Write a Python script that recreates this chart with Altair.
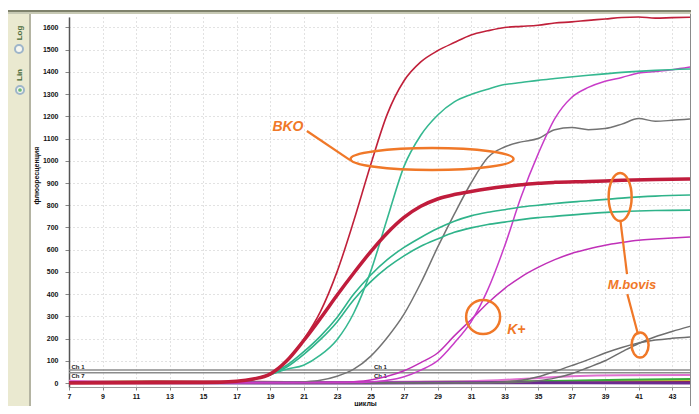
import altair as alt
import pandas as pd

# ---------------- data ----------------
X_TICKS = list(range(7, 44, 2))
Y_TICKS = list(range(0, 1700, 100))

RED_THIN_C = [7, 15, 17, 18, 19, 20, 21, 22, 23, 24, 25, 26, 27, 28, 29, 30, 31, 32, 33, 34, 35, 36, 37, 38, 39, 40, 41, 42, 43, 44.07]
RED_THIN_V = [0, 2, 8, 18, 40, 100, 195, 320, 500, 730, 980, 1210, 1360, 1445, 1495, 1532, 1566, 1585, 1600, 1605, 1610, 1620, 1625, 1632, 1638, 1645, 1647, 1642, 1644, 1646]

RED_THICK_C = [7, 15, 17, 18, 19, 20, 21, 22, 23, 24, 25, 26, 27, 28, 29, 30, 31, 32, 33, 34, 35, 36, 38, 40, 42, 44.07]
RED_THICK_V = [0, 2, 8, 18, 40, 100, 190, 290, 395, 495, 590, 675, 745, 795, 828, 848, 862, 874, 884, 892, 899, 903, 907, 912, 916, 918]

GREEN0_C = [7, 15, 17, 18, 19, 20, 21, 22, 23, 24, 25, 26, 27, 28, 29, 30, 31, 32, 33, 34, 35, 36, 38, 40, 42, 44.07]
GREEN0_V = [0, 2, 8, 18, 38, 62, 80, 125, 195, 315, 500, 740, 975, 1115, 1205, 1265, 1298, 1322, 1343, 1352, 1362, 1370, 1385, 1398, 1407, 1413]

GREEN1_C = [7, 15, 17, 18, 19, 20, 21, 22, 23, 24, 25, 26, 27, 28, 29, 30, 31, 32, 33, 34, 35, 36, 38, 40, 42, 44.07]
GREEN1_V = [0, 2, 8, 18, 40, 80, 140, 210, 295, 400, 485, 555, 610, 655, 695, 728, 752, 768, 780, 792, 800, 808, 820, 832, 841, 846]

GREEN2_C = [7, 15, 17, 18, 19, 20, 21, 22, 23, 24, 25, 26, 27, 28, 29, 30, 31, 32, 33, 34, 35, 36, 38, 40, 42, 44.07]
GREEN2_V = [0, 2, 7, 16, 36, 72, 128, 195, 275, 375, 455, 520, 572, 615, 648, 678, 698, 713, 724, 735, 744, 750, 762, 771, 776, 778]

GREY1_C = [7, 20, 21, 22, 23, 24, 25, 26, 27, 28, 29, 30, 31, 32, 33, 34, 35, 36, 37, 38, 39, 40, 41, 42, 43, 44.07]
GREY1_V = [0, 2, 5, 12, 30, 62, 120, 205, 310, 450, 610, 760, 900, 1015, 1062, 1085, 1100, 1140, 1150, 1140, 1145, 1165, 1190, 1178, 1182, 1188]

MAG1_C = [7, 24, 25, 26, 27, 28, 29, 30, 31, 32, 33, 34, 35, 36, 37, 38, 39, 40, 41, 42, 43, 44.07]
MAG1_V = [0, 2, 5, 12, 28, 58, 100, 180, 275, 420, 615, 840, 1030, 1190, 1285, 1330, 1358, 1375, 1395, 1402, 1410, 1422]

MAG2_C = [7, 23, 24, 25, 26, 27, 28, 29, 30, 31, 32, 33, 34, 35, 36, 37, 38, 39, 40, 41, 42, 43, 44.07]
MAG2_V = [0, 2, 6, 14, 30, 55, 92, 135, 212, 285, 360, 425, 478, 520, 555, 583, 603, 620, 632, 642, 648, 653, 657]

GREY2_C = [7, 32, 33, 34, 35, 36, 37, 38, 39, 40, 41, 42, 43, 44.07]
GREY2_V = [0, 1, 5, 12, 28, 52, 78, 105, 135, 160, 180, 193, 201, 207]

GREY3_C = [7, 33, 34, 35, 36, 37, 38, 39, 40, 41, 42, 43, 44.07]
GREY3_V = [0, 1, 3, 10, 22, 42, 70, 100, 140, 178, 208, 232, 255]

NEG_PURPLE_C = [7, 20, 30, 44.07]
NEG_PURPLE_V = [2, 0, 1, 0]
NEG_PINK_C = [7, 10, 20, 30, 34, 37, 40, 44.07]
NEG_PINK_V = [10, 5, 3, 6, 18, 30, 35, 36]
NEG_GREEN_C = [7, 15, 25, 35, 40, 44.07]
NEG_GREEN_V = [4, 2, 3, 8, 15, 18]
NEG_YELLOW_C = [7, 15, 25, 35, 40, 44.07]
NEG_YELLOW_V = [6, 4, 2, 6, 11, 13]
NEG_RED_C = [7, 12, 20, 30, 44.07]
NEG_RED_V = [5, 7, 3, 4, 5]
NEG_DARK_C = [7, 44.07]
NEG_DARK_V = [1, 2]

THRESHOLDS = [58, 46]

# annotations (data coordinates)
BKO_TEXT = [20.07, 1152]
BKO_LINE = [21.2, 1134, 23.78, 1003]
BKO_ELLIPSE = [28.67, 1008]
KPLUS_TEXT = [33.7, 238]
KPLUS_CIRCLE = [31.72, 297]
MB_TEXT = [40.61, 441]
MB_ELLIPSE_TOP = [39.9, 837]
MB_ELLIPSE_BOT = [41.09, 171]
MB_LINE1 = [39.92, 729, 40.31, 490]
MB_LINE2 = [40.33, 400, 40.97, 218]

ORANGE = "#f07828"
FONT = "Liberation Sans"

xs = alt.Scale(domain=[7, 44.07], nice=False, zero=False)
ys = alt.Scale(domain=[-18, 1647], nice=False, zero=False)
xaxis = alt.Axis(values=X_TICKS, format="d", grid=True, gridColor="#c4c4c4", gridDash=[1, 3],
                 labelFont=FONT, labelFontWeight="bold", labelFontSize=7, labelColor="#111",
                 labelFlush=False, labelPadding=2, tickSize=3, tickColor="#888",
                 domainColor="#999", title="циклы", titleX=296, titleY=16,
                 titleFont=FONT, titleFontSize=7, titleFontWeight="bold",
                 titleAlign="center", titleBaseline="middle", titleColor="#111")
yaxis = alt.Axis(values=Y_TICKS, format="d", grid=True, gridColor="#c4c4c4", gridDash=[1, 3],
                 labelFont=FONT, labelFontWeight="bold", labelFontSize=7, labelColor="#111",
                 labelPadding=7, tickSize=4, tickColor="#888",
                 domainColor="#555", domainWidth=1.5, title="флюоресценция",
                 titleX=-33, titleY=158, titleAngle=270, titleFont=FONT, titleFontSize=7,
                 titleFontWeight="bold", titleAlign="center", titleBaseline="middle", titleColor="#111")
X = alt.X("cycle:Q", scale=xs, axis=xaxis)
Y = alt.Y("value:Q", scale=ys, axis=yaxis)


def curve(c, v, color, width):
    df = pd.DataFrame({"cycle": c, "value": v})
    return alt.Chart(df).mark_line(color=color, strokeWidth=width, interpolate="monotone").encode(x=X, y=Y)


one = pd.DataFrame({"a": [0]})


def prect(x1, x2, y1, y2, color):
    return alt.Chart(one).mark_rect(color=color).encode(
        x=alt.value(x1), x2=alt.value(x2), y=alt.value(y1), y2=alt.value(y2))


chrome = [
    prect(-61, -40, -5, 389, "#eae9d0"),
    prect(-40, -38, -5, 389, "#b4b4a2"),
    prect(-61, 622, -7, -5, "#7f826c"),
    prect(-61, 622, -5, -3, "#c7c9b4"),
    prect(621, 622, -3, 389, "#8a8a8a"),
]

radio_text = alt.Chart(pd.DataFrame({"t": ["Log", "Lin"], "px": [-49, -49], "py": [16, 58]})).mark_text(
    font=FONT, fontSize=8, fontWeight="bold", angle=270, color="#4a6a3a").encode(
    x=alt.X("px:Q", scale=None), y=alt.Y("py:Q", scale=None), text="t:N")
radio1 = alt.Chart(one).mark_point(shape="circle", size=64, filled=True, fill="white",
                                   stroke="#7fa0c8", strokeWidth=2).encode(x=alt.value(-50), y=alt.value(32))
radio2 = alt.Chart(one).mark_point(shape="circle", size=64, filled=True, fill="white",
                                   stroke="#7fa0c8", strokeWidth=2).encode(x=alt.value(-49), y=alt.value(73))
radio2dot = alt.Chart(one).mark_point(shape="circle", size=14, filled=True, color="#2fa040").encode(
    x=alt.value(-49), y=alt.value(73))

thr = alt.Chart(pd.DataFrame({"value": THRESHOLDS})).mark_rule(color="#8c8c8c", strokeWidth=1.5).encode(y=Y)
ch_labels = alt.Chart(pd.DataFrame({"cycle": [7.15, 7.15, 25.2, 25.2], "value": [72, 32, 72, 32],
                                    "t": ["Ch 1", "Ch 7", "Ch 1", "Ch 1"]})).mark_text(
    font=FONT, fontSize=6, fontWeight="bold", align="left", color="#222").encode(x=X, y=Y, text="t:N")

lines = [
    curve(NEG_DARK_C, NEG_DARK_V, "#2a2a40", 2),
    curve(NEG_RED_C, NEG_RED_V, "#a01c2c", 2.5),
    curve(NEG_YELLOW_C, NEG_YELLOW_V, "#c8bc3c", 2),
    curve(NEG_GREEN_C, NEG_GREEN_V, "#3aaa3a", 2),
    curve(NEG_PINK_C, NEG_PINK_V, "#e070d0", 2),
    curve(NEG_PURPLE_C, NEG_PURPLE_V, "#6b2a90", 3),
    curve(GREY2_C, GREY2_V, "#6e6e6e", 1.5),
    curve(GREY3_C, GREY3_V, "#6e6e6e", 1.5),
    curve(GREY1_C, GREY1_V, "#737373", 1.5),
    curve(MAG2_C, MAG2_V, "#c030b8", 1.5),
    curve(MAG1_C, MAG1_V, "#c83cc8", 1.5),
    curve(GREEN2_C, GREEN2_V, "#2fb38a", 1.6),
    curve(GREEN1_C, GREEN1_V, "#2fb38a", 1.6),
    curve(GREEN0_C, GREEN0_V, "#35b890", 1.6),
    curve(RED_THICK_C, RED_THICK_V, "#c01c3c", 3.5),
    curve(RED_THIN_C, RED_THIN_V, "#c0203a", 1.6),
]


def ann_text(pos, txt, size):
    df = pd.DataFrame({"cycle": [pos[0]], "value": [pos[1]], "t": [txt]})
    return alt.Chart(df).mark_text(font=FONT, fontSize=size, fontWeight="bold", fontStyle="italic",
                                   color=ORANGE).encode(x=X, y=Y, text="t:N")


def ann_line(seg):
    df = pd.DataFrame({"cycle": [seg[0]], "value": [seg[1]], "cycle2": [seg[2]], "value2": [seg[3]]})
    return alt.Chart(df).mark_rule(color=ORANGE, strokeWidth=2.2).encode(
        x=X, y=Y, x2="cycle2:Q", y2="value2:Q")


def ann_ellipse(pos, w, h):
    if w >= h:
        r = round(h / w, 3)
        path = f"M-1,0A1,{r} 0 1,1 1,0A1,{r} 0 1,1 -1,0Z"
        size = w * w
    else:
        r = round(w / h, 3)
        path = f"M0,-1A{r},1 0 1,1 0,1A{r},1 0 1,1 0,-1Z"
        size = h * h
    df = pd.DataFrame({"cycle": [pos[0]], "value": [pos[1]]})
    return alt.Chart(df).mark_point(shape=path, size=size, filled=False, stroke=ORANGE,
                                    strokeWidth=2.5, opacity=1).encode(x=X, y=Y)


annotations = [
    ann_line(BKO_LINE),
    ann_ellipse(BKO_ELLIPSE, 163, 22),
    ann_text(BKO_TEXT, "BKO", 14),
    ann_ellipse(KPLUS_CIRCLE, 34, 34),
    ann_text(KPLUS_TEXT, "K+", 14),
    ann_line(MB_LINE1),
    ann_line(MB_LINE2),
    ann_ellipse(MB_ELLIPSE_TOP, 23, 48),
    ann_ellipse(MB_ELLIPSE_BOT, 17, 25),
    ann_text(MB_TEXT, "M.bovis", 13),
]

chart = alt.layer(*chrome, thr, ch_labels, *lines, *annotations,
                  radio1, radio2, radio2dot, radio_text).properties(
    width=621, height=370, autosize="none",
    padding={"left": 61, "top": 9, "right": 1, "bottom": 19},
    background="#ffffff",
).configure_view(stroke=None)

chart.save("out.html", embed_options={"renderer": "svg", "actions": False})
